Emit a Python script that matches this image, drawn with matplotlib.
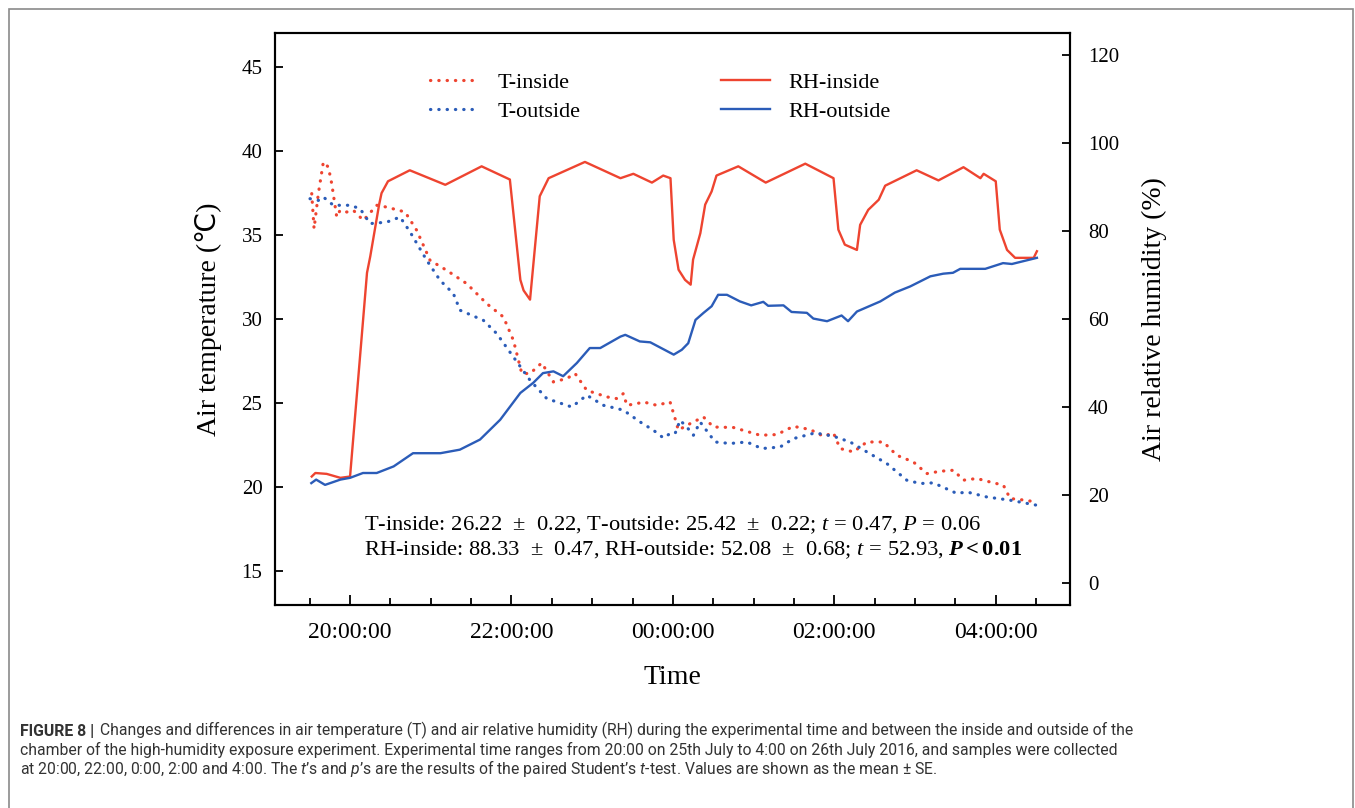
import matplotlib
matplotlib.use("Agg")
import matplotlib.pyplot as plt
from matplotlib.patches import Rectangle
from matplotlib.lines import Line2D

# time axis: hours after 20:00 (25th July)
rh_in_time = [-0.475, -0.43, -0.29, -0.12, 0.0, 0.21, 0.25, 0.36, 0.39, 0.47, 0.74, 1.18,
              1.63, 1.98, 2.11, 2.15, 2.23, 2.35, 2.46, 2.91, 3.35, 3.51, 3.74, 3.88, 3.97,
              4.01, 4.07, 4.15, 4.22, 4.25, 4.34, 4.40, 4.48, 4.54, 4.81, 5.15, 5.64, 5.99,
              6.05, 6.13, 6.28, 6.32, 6.42, 6.55, 6.63, 7.02, 7.29, 7.60, 7.81, 7.85, 8.0,
              8.05, 8.14, 8.24, 8.47, 8.51]
rh_in = [24.2, 25.0, 24.8, 23.9, 24.2, 70.5, 74.2, 86.0, 88.6, 91.3, 93.8, 90.5,
         94.7, 91.7, 68.9, 66.5, 64.4, 87.9, 92.0, 95.7, 92.0, 93.0, 91.0, 92.6, 92.0,
         78.0, 71.2, 68.9, 67.8, 73.5, 79.5, 86.0, 89.0, 92.6, 94.7, 91.0, 95.3, 92.0,
         80.3, 76.9, 75.7, 81.4, 84.8, 87.1, 90.3, 93.8, 91.5, 94.5, 92.0, 93.0, 91.3,
         80.3, 75.7, 73.9, 73.9, 75.4]

rh_out_time = [-0.48, -0.42, -0.31, -0.12, 0.0, 0.16, 0.33, 0.54, 0.78, 1.12, 1.36, 1.61,
               1.86, 2.11, 2.27, 2.39, 2.52, 2.64, 2.81, 2.97, 3.10, 3.35, 3.41, 3.59, 3.72,
               4.01, 4.11, 4.19, 4.28, 4.38, 4.48, 4.56, 4.67, 4.83, 4.97, 5.12, 5.18, 5.37,
               5.47, 5.66, 5.74, 5.91, 6.09, 6.17, 6.28, 6.57, 6.75, 6.94, 7.19, 7.35, 7.47,
               7.56, 7.87, 8.09, 8.20, 8.51]
rh_out = [22.7, 23.5, 22.3, 23.5, 23.9, 25.0, 25.0, 26.5, 29.5, 29.5, 30.3, 32.6,
          37.1, 43.2, 45.5, 47.7, 48.1, 47.0, 50.0, 53.4, 53.4, 56.0, 56.4, 54.9, 54.7,
          51.9, 53.0, 54.5, 59.8, 61.4, 62.9, 65.5, 65.5, 64.0, 63.1, 63.9, 63.0, 63.1,
          61.6, 61.4, 60.1, 59.5, 60.8, 59.5, 61.7, 64.0, 66.0, 67.4, 69.7, 70.3, 70.5,
          71.4, 71.4, 72.7, 72.5, 73.9]

t_in_time = [-0.475, -0.446, -0.393, -0.331, -0.269, -0.227, -0.165, -0.124, -0.041, 0.041,
             0.165, 0.331, 0.455, 0.682, 0.826, 0.991, 1.198, 1.446, 1.694, 1.900, 2.024,
             2.128, 2.230, 2.375, 2.519, 2.685, 2.788, 2.933, 3.181, 3.305, 3.387, 3.429,
             3.553, 3.635, 3.800, 3.965, 4.027, 4.068, 4.172, 4.378, 4.502, 4.750, 5.081,
             5.288, 5.493, 5.700, 5.865, 5.989, 6.072, 6.237, 6.403, 6.608, 6.774, 6.980,
             7.146, 7.311, 7.476, 7.600, 7.766, 7.931, 8.095, 8.178, 8.364, 8.488]
t_in = [37.45, 35.37, 37.45, 39.33, 39.03, 38.04, 36.06, 36.46, 36.36, 36.46,
        35.86, 36.76, 36.65, 36.36, 35.27, 33.49, 32.89, 32.10, 30.91, 30.12, 28.73,
        26.76, 26.76, 27.39, 26.26, 26.46, 26.76, 25.76, 25.37, 25.27, 25.57, 24.87,
        24.97, 25.07, 24.87, 25.07, 24.08, 23.39, 23.68, 24.18, 23.58, 23.55, 23.09,
        23.13, 23.62, 23.43, 23.03, 23.23, 22.30, 22.10, 22.69, 22.69, 21.90, 21.50,
        20.81, 20.95, 21.01, 20.42, 20.52, 20.31, 20.12, 19.33, 19.23, 19.13]

t_out_time = [-0.496, -0.393, -0.331, -0.207, 0.0, 0.124, 0.248, 0.455, 0.620, 0.744,
              0.950, 1.115, 1.280, 1.363, 1.652, 1.818, 2.024, 2.230, 2.437, 2.685, 2.747,
              2.933, 3.139, 3.305, 3.387, 3.594, 3.758, 3.882, 3.965, 4.027, 4.089, 4.172,
              4.254, 4.337, 4.523, 4.709, 4.916, 5.102, 5.328, 5.493, 5.762, 5.989, 6.196,
              6.403, 6.650, 6.898, 7.063, 7.228, 7.518, 7.642, 7.890, 8.178, 8.509]
t_out = [37.15, 37.05, 37.25, 36.76, 36.76, 36.56, 35.67, 35.76, 36.06, 35.17,
         33.49, 32.30, 31.51, 30.52, 29.92, 29.13, 27.74, 26.36, 25.27, 24.87, 24.77,
         25.47, 24.87, 24.68, 24.58, 23.88, 23.39, 22.93, 23.19, 23.19, 23.98, 23.58,
         23.09, 23.88, 22.69, 22.60, 22.69, 22.30, 22.39, 22.89, 23.23, 23.03, 22.69,
         22.10, 21.41, 20.42, 20.22, 20.26, 19.63, 19.72, 19.42, 19.23, 18.93]

hour_ticks = [0, 2, 4, 6, 8]
hour_labels = ["20:00:00", "22:00:00", "00:00:00", "02:00:00", "04:00:00"]
half_hour_ticks = [-0.5 + 0.5 * i for i in range(19)]

stats_lines = [
    "T-inside: 26.22  \u00b1  0.22, T-outside: 25.42  \u00b1  0.22; $t$ = 0.47, $P$ = 0.06",
    "RH-inside: 88.33  \u00b1  0.47, RH-outside: 52.08  \u00b1  0.68; $t$ = 52.93, "
    "$\\mathbfit{P}\\mathbf{<0.01}$",
]

caption_head = "FIGURE 8 |"
caption_lines = [
    "Changes and differences in air temperature (T) and air relative humidity (RH) during the "
    "experimental time and between the inside and outside of the",
    "chamber of the high-humidity exposure experiment. Experimental time ranges from 20:00 on "
    "25th July to 4:00 on 26th July 2016, and samples were collected",
    "at 20:00, 22:00, 0:00, 2:00 and 4:00. The $\\mathsf{t}$\u2019s and $\\mathsf{p}$\u2019s are "
    "the results of the paired Student\u2019s $\\mathsf{t}$-test. Values are shown as the mean \u00b1 SE.",
]

RED = "#EE4430"
BLUE = "#2B5CB8"
SERIF = "Liberation Serif"
SANS = "Roboto"

plt.rcParams["font.family"] = [SERIF, "DejaVu Sans", "Noto Sans CJK SC"]
plt.rcParams["mathtext.fontset"] = "custom"
plt.rcParams["mathtext.rm"] = SERIF
plt.rcParams["mathtext.it"] = SERIF + ":italic"
plt.rcParams["mathtext.bf"] = SERIF + ":bold"
plt.rcParams["mathtext.bfit"] = SERIF + ":italic:bold"
plt.rcParams["mathtext.sf"] = SANS + ":italic"

fig = plt.figure(figsize=(13.55, 8.08), dpi=100)
ax = fig.add_axes([275 / 1355, 1 - 605 / 808, 795 / 1355, 572 / 808])
ax2 = ax.twinx()

dot = dict(linestyle=(0, (0.1, 2.5)), linewidth=2.3, dash_capstyle="round")
ax.plot(t_in_time, t_in, color=RED, **dot)
ax.plot(t_out_time, t_out, color=BLUE, **dot)
ax2.plot(rh_in_time, rh_in, color=RED, linewidth=1.7)
ax2.plot(rh_out_time, rh_out, color=BLUE, linewidth=1.7)

ax.set_xlim(-0.93, 8.92)
ax.set_ylim(13, 47)
ax2.set_ylim(-5, 125)
ax.set_yticks([15, 20, 25, 30, 35, 40, 45])
ax2.set_yticks([0, 20, 40, 60, 80, 100, 120])
ax.set_xticks(hour_ticks)
ax.set_xticklabels(hour_labels)
ax.set_xticks(half_hour_ticks, minor=True)

for a in (ax, ax2):
    for s in a.spines.values():
        s.set_linewidth(1.5)
ax.tick_params(axis="x", which="major", direction="in", length=7, width=1.3, labelsize=17, pad=12)
ax.tick_params(axis="x", which="minor", direction="in", length=5, width=1.3)
ax.tick_params(axis="y", direction="in", length=6, width=1.3, labelsize=15, pad=9)
ax2.tick_params(axis="y", direction="in", length=6, width=1.3, labelsize=15, pad=13)

ax.set_xlabel("Time", fontsize=20, labelpad=16)
ax.set_ylabel("Air temperature (\u2103)", fontsize=20, labelpad=14)
ax2.set_ylabel("Air relative humidity (%)", fontsize=20, labelpad=16)

handles = [
    Line2D([], [], color=RED, **dot),
    Line2D([], [], color=BLUE, **dot),
    Line2D([], [], color=RED, linewidth=1.7),
    Line2D([], [], color=BLUE, linewidth=1.7),
]
labels = ["T-inside", "T-outside", "RH-inside", "RH-outside"]
ax.legend(handles, labels, ncol=2, loc="upper left", frameon=False, fontsize=16,
          bbox_to_anchor=(430 / 1355, 1 - 72 / 808), bbox_transform=fig.transFigure,
          borderaxespad=0, borderpad=0, handlelength=2.2, handletextpad=0.85,
          columnspacing=6.3, labelspacing=0.38)

ax.text(364 / 1355, 1 - 525 / 808, stats_lines[0], transform=fig.transFigure,
        fontsize=16.2, va="center", ha="left")
ax.text(364 / 1355, 1 - 550 / 808, stats_lines[1], transform=fig.transFigure,
        fontsize=16.2, va="center", ha="left")

# caption
cap = dict(family=SANS, fontsize=11.3, color="#333333")
head = fig.text(20 / 1355, 1 - 736 / 808, caption_head, fontweight="bold", **cap)
ax.annotate(caption_lines[0], xy=(1, 0), xycoords=head, xytext=(4, 0),
            textcoords="offset points", va="bottom", ha="left", annotation_clip=False, **cap)
fig.text(20 / 1355, 1 - 755 / 808, caption_lines[1], **cap)
fig.text(20 / 1355, 1 - 774 / 808, caption_lines[2], **cap)

fig.add_artist(Rectangle((9 / 1355, -0.02), 1344 / 1355, 1.02 - 9 / 808,
                         transform=fig.transFigure, fill=False, edgecolor="#8a8a8a",
                         linewidth=1.2, clip_on=False))

fig.savefig("out.png", dpi=100)
